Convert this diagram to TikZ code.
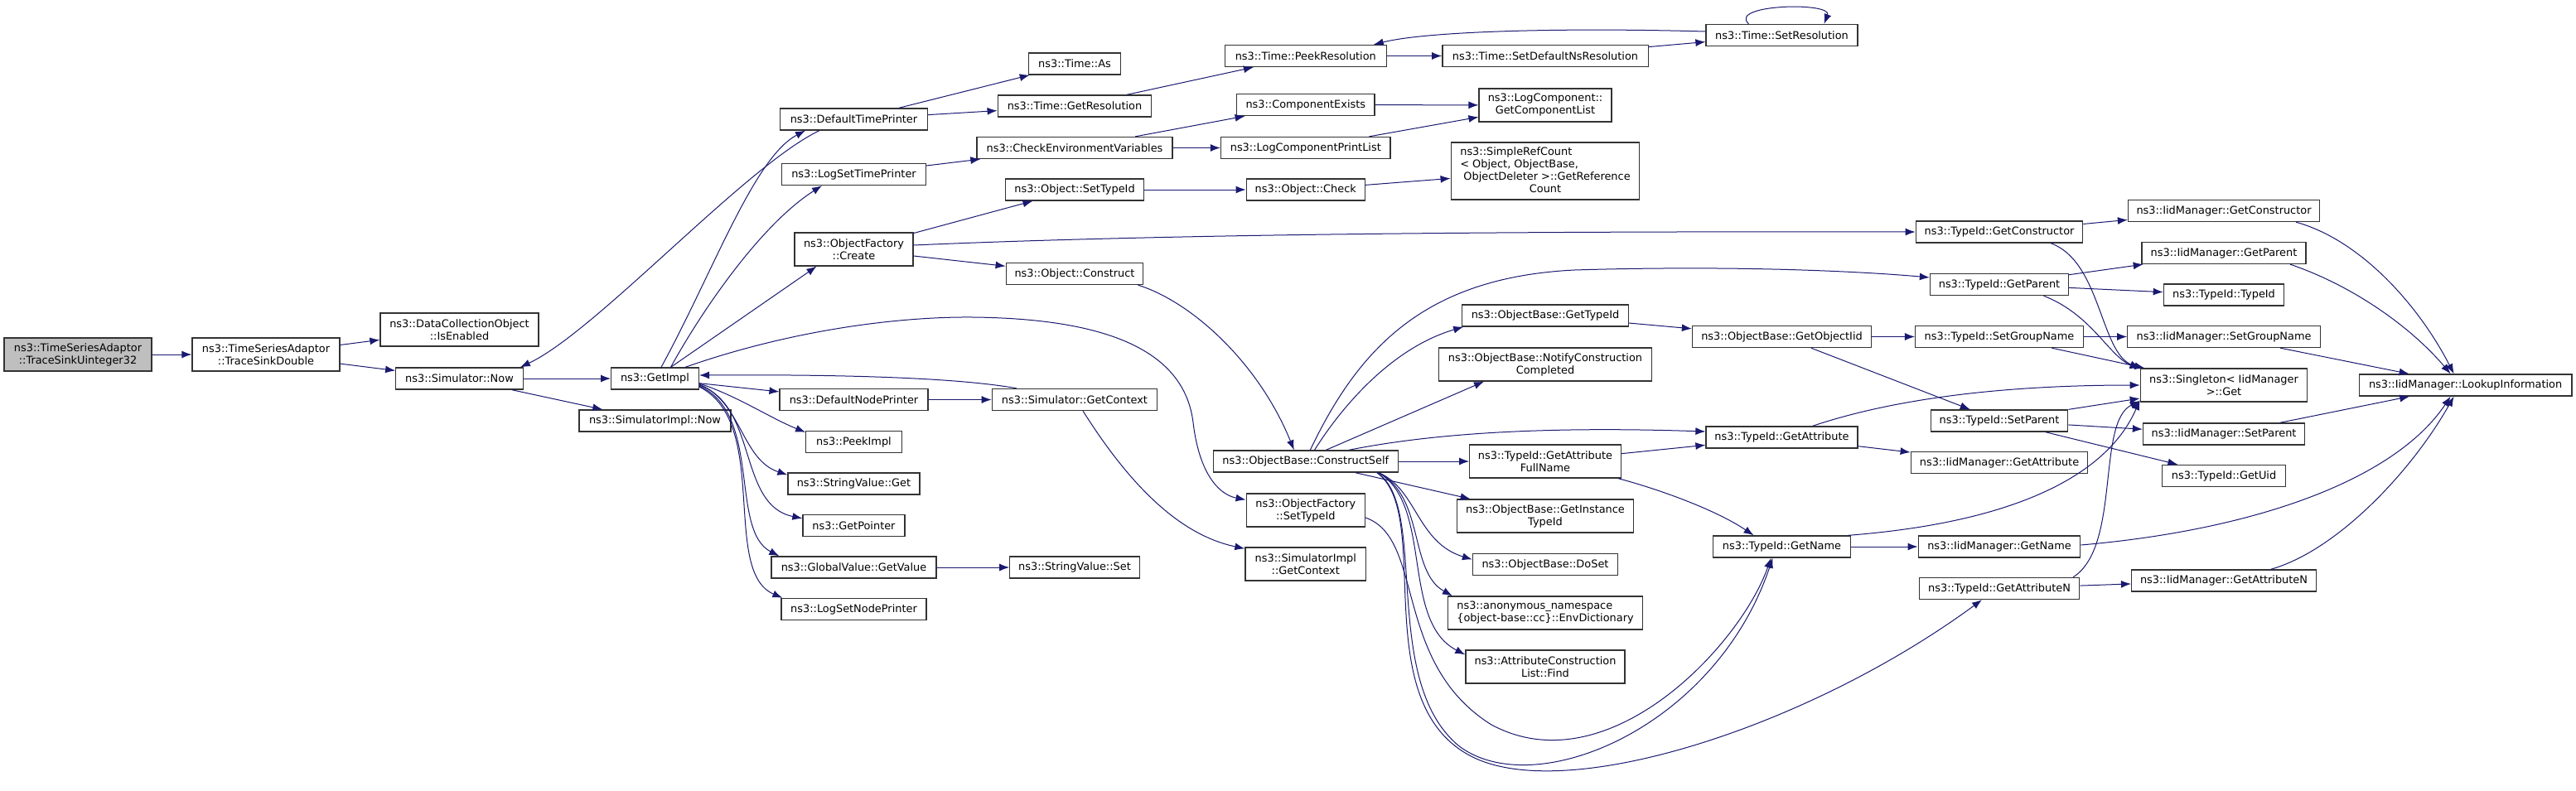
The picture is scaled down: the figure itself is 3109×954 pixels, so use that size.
\documentclass[tikz,border=0pt]{standalone}
\usepackage{fontspec}
\setmainfont{DejaVu Sans}
\usepackage{tikz}
\usetikzlibrary{arrows.meta}
\tikzset{font={\fontsize{12.9pt}{15pt}\selectfont}}
\definecolor{edgeblue}{RGB}{25,25,112}
\definecolor{rootgray}{RGB}{191,191,191}
\definecolor{boxline}{RGB}{51,51,51}
\begin{document}
\begin{tikzpicture}[x=1pt,y=-1pt,
fn/.style={draw=boxline,line width=1.3pt,fill=white,align=center,inner sep=1pt,minimum height=26pt},
call/.style={draw=edgeblue,line width=1pt,-{Latex[length=12pt,width=9pt]}}
]
\useasboundingbox (0,0) rectangle (3109,954);
\node[fn,fill=rootgray,minimum width=178pt,minimum height=40pt] (tsu) at (94,428) {ns3::TimeSeriesAdaptor\\::TraceSinkUinteger32};
\foreach \nm/\cx/\cy/\bw/\bh/\lbl in {
tsd/321/428/178/40/{ns3::TimeSeriesAdaptor\\::TraceSinkDouble},
isen/554.5/398/191/40/{ns3::DataCollectionObject\\::IsEnabled},
snow/554.5/457/153.5/26/{ns3::Simulator::Now},
gimpl/790.5/457/105.7/26/{ns3::GetImpl},
sinow/790.5/508/183/26/{ns3::SimulatorImpl::Now},
dtp/1030.5/144/177.4/26/{ns3::DefaultTimePrinter},
lstp/1030.5/210.5/174/26/{ns3::LogSetTimePrinter},
ofc/1030.5/301/143/40/{ns3::ObjectFactory\\::Create},
dnp/1030.5/482.5/178.8/26/{ns3::DefaultNodePrinter},
peek/1030.5/533.5/115.4/26/{ns3::PeekImpl},
svget/1030.5/584/159/26/{ns3::StringValue::Get},
gptr/1030.5/634.5/123/26/{ns3::GetPointer},
gvget/1030.5/685/199/26/{ns3::GlobalValue::GetValue},
lsnp/1030.5/735.5/175/26/{ns3::LogSetNodePrinter},
tas/1297/77/110.8/26/{ns3::Time::As},
tgres/1297/128/185.6/26/{ns3::Time::GetResolution},
cenv/1297/178.5/236/26/{ns3::CheckEnvironmentVariables},
ostid/1297/229/167/26/{ns3::Object::SetTypeId},
ocons/1297/330.5/165.6/26/{ns3::Object::Construct},
sgctx/1297/482.5/199.4/26/{ns3::Simulator::GetContext},
svset/1297/685/156.4/26/{ns3::StringValue::Set},
tpres/1575.8/67.5/195/26/{ns3::Time::PeekResolution},
cexist/1575.8/126.5/166.6/26/{ns3::ComponentExists},
lcpl/1575.8/178.5/204.6/26/{ns3::LogComponentPrintList},
ochk/1575.8/229/143.2/26/{ns3::Object::Check},
cself/1575.8/557/223.2/26/{ns3::ObjectBase::ConstructSelf},
ofstid/1575.8/616/143.2/40/{ns3::ObjectFactory\\::SetTypeId},
sigctx/1575.8/681/145.7/40/{ns3::SimulatorImpl\\::GetContext},
tsdns/1865/67.5/248.3/26/{ns3::Time::SetDefaultNsResolution},
lcgcl/1865/127/159.8/40/{ns3::LogComponent::\\GetComponentList},
obgtid/1865/381/200.4/26/{ns3::ObjectBase::GetTypeId},
obncc/1865/440/257.6/40/{ns3::ObjectBase::NotifyConstruction\\Completed},
tgafn/1865/557/182.5/40/{ns3::TypeId::GetAttribute\\FullName},
obgitid/1865/623/213.5/40/{ns3::ObjectBase::GetInstance\\TypeId},
obdoset/1865/681.5/175/26/{ns3::ObjectBase::DoSet},
acfind/1865/805/192.2/40/{ns3::AttributeConstruction\\List::Find},
tsres/2150.5/42.5/183/26/{ns3::Time::SetResolution},
obgoid/2150.5/406.5/216/26/{ns3::ObjectBase::GetObjectIid},
tgattr/2150.5/528/183/26/{ns3::TypeId::GetAttribute},
tgname/2150.5/660/165.6/26/{ns3::TypeId::GetName},
tgcons/2413/280/201.5/26/{ns3::TypeId::GetConstructor},
tgpar/2413/343.5/167/26/{ns3::TypeId::GetParent},
tsgn/2413/406.5/202.8/26/{ns3::TypeId::SetGroupName},
tspar/2413/508/165.6/26/{ns3::TypeId::SetParent},
imgattr/2413/558.5/213.5/26/{ns3::IidManager::GetAttribute},
imgname/2413/660/195.6/26/{ns3::IidManager::GetName},
tgattrn/2413/710.5/193.6/26/{ns3::TypeId::GetAttributeN},
imgcons/2684/254.5/231/26/{ns3::IidManager::GetConstructor},
imgpar/2684/305.5/198/26/{ns3::IidManager::GetParent},
ttid/2684/356/145.4/26/{ns3::TypeId::TypeId},
imsgn/2684/406.5/232.4/26/{ns3::IidManager::SetGroupName},
sget/2684/465/201.4/40/{ns3::Singleton< IidManager\\>::Get},
imspar/2684/524/195/26/{ns3::IidManager::SetParent},
tguid/2684/574.5/148.4/26/{ns3::TypeId::GetUid},
imgattrn/2684/701/222.8/26/{ns3::IidManager::GetAttributeN},
imlook/2975.6/465/256.8/26/{ns3::IidManager::LookupInformation}}
  \node[fn,minimum width=\bw pt,minimum height=\bh pt] (\nm) at (\cx,\cy) {\lbl};
\node[fn,align=left,minimum width=234.9pt,minimum height=40pt] (envd) at (1865,740) {ns3::anonymous\_namespace\\\{object-base::cc\}::EnvDictionary};
\node[fn,minimum width=227.6pt,minimum height=69pt] (srefc) at (1865,206.5) {\begin{tabular}{@{}l@{}}ns3::SimpleRefCount\\< Object, ObjectBase,\\\ ObjectDeleter >::GetReference\\\multicolumn{1}{@{}c@{}}{Count}\end{tabular}};

\foreach \src/\dst in {tsu/tsd, tsd/isen, tsd/snow, snow/gimpl, snow/sinow, gimpl/dnp,
  dtp/tas, dtp/tgres, tgres/tpres, lstp/cenv, cenv/cexist, cenv/lcpl, cexist/lcgcl, lcpl/lcgcl,
  ofc/ostid, ofc/ocons, ostid/ochk, ochk/srefc, dnp/sgctx, gvget/svset, tpres/tsdns, tsdns/tsres,
  cself/tgafn, cself/obgitid, obgtid/obgoid, obgoid/tsgn, obgoid/tspar, tgafn/tgattr,
  tgcons/imgcons, tgpar/imgpar, tgpar/ttid, tsgn/imsgn, tsgn/sget, tgattr/imgattr,
  tspar/imspar, tspar/tguid, tgname/imgname, tgattrn/imgattrn, imsgn/imlook, imspar/imlook}
  \draw[call] (\src) -- (\dst);

\draw[call] ([xshift=7.5pt]gimpl.north) .. controls (860,330) and (910,190) .. ([xshift=-58.5pt]dtp.south);
\draw[call] ([xshift=-41.5pt]dtp.south) .. controls (900,200) and (720,400) .. ([xshift=-4pt]snow.north east);
\draw[call] ([xshift=19pt]gimpl.north) .. controls (850,370) and (920,270) .. ([xshift=-38.5pt]lstp.south);
\draw[call] ([xshift=19pt]gimpl.north) -- ([xshift=-45pt]ofc.south);
\draw[call] ([xshift=36.5pt]gimpl.north) .. controls (950,400) and (1080,382) .. (1175,383) .. controls (1350,385) and (1430,430) .. (1440,510) .. controls (1447,570) and (1470,597) .. ([yshift=-8pt]ofstid.north west);
\draw[call] ([xshift=-70pt]sgctx.north) .. controls (1150,455) and (1000,452) .. ([yshift=4pt]gimpl.east);
\draw[call] ([yshift=-6pt]gimpl.east) .. controls (890,478) and (930,505) .. ([yshift=-2pt]peek.north west);
\draw[call] ([yshift=-7pt]gimpl.east) .. controls (895,485) and (895,555) .. ([yshift=-3pt]svget.north west);
\draw[call] ([yshift=-8pt]gimpl.east) .. controls (915,490) and (890,610) .. ([yshift=-5pt]gptr.north west);
\draw[call] ([yshift=-9pt]gimpl.east) .. controls (920,500) and (880,640) .. ([xshift=10pt]gvget.north west);
\draw[call] ([yshift=-10pt]gimpl.east) .. controls (930,510) and (870,690) .. ([xshift=2pt]lsnp.north west);
\draw[call] ([yshift=5pt]ofc.east) .. controls (1400,283) and (1800,279) .. (tgcons.west);
\draw[call] ([xshift=10pt]sgctx.south) .. controls (1360,580) and (1420,645) .. ([yshift=-2pt]sigctx.north west);
\draw[call] ([xshift=-7pt]ocons.south east) .. controls (1440,365) and (1520,440) .. ([xshift=-14pt]cself.north);
\draw[call] ([yshift=4.5pt]tsres.west) .. controls (1880,33) and (1720,38) .. ([xshift=82pt]tpres.north);
\draw[call] ([xshift=-40pt]tsres.north) .. controls (2085,5) and (2212,2) .. ([xshift=51pt]tsres.north);

\draw[call] ([xshift=10.7pt]cself.north) .. controls (1620,490) and (1680,420) .. ([xshift=2pt]obgtid.south west);
\draw[call] ([xshift=24.5pt]cself.north) -- ([xshift=-74pt]obncc.south);
\draw[call] ([xshift=5.5pt]cself.north) .. controls (1640,420) and (1720,335) .. (1900,326) .. controls (2100,320) and (2250,328) .. ([yshift=8.5pt]tgpar.west);
\draw[call] ([xshift=52pt]cself.north) .. controls (1720,525) and (1850,514) .. ([yshift=7pt]tgattr.west);
\draw[call] ([xshift=88pt]cself.south) .. controls (1710,590) and (1710,655) .. ([yshift=6pt]obdoset.west);
\draw[call] ([xshift=88pt]cself.south) .. controls (1720,600) and (1700,690) .. ([xshift=6pt]envd.north west);
\draw[call] ([xshift=88pt]cself.south) .. controls (1730,610) and (1690,750) .. ([yshift=-6pt]acfind.north west);
\draw[call] ([xshift=86pt]cself.south) .. controls (1725,610) and (1665,820) .. (1760,900) .. controls (1850,970) and (2070,880) .. ([xshift=-11pt]tgname.south);
\draw[call] ([xshift=86pt]cself.south) .. controls (1730,620) and (1650,840) .. (1770,910) .. controls (1880,975) and (2180,880) .. ([xshift=-21pt]tgattrn.south);
\draw[call] ([yshift=-9pt]ofstid.east) .. controls (1720,650) and (1680,800) .. (1800,875) .. controls (1940,950) and (2100,780) .. ([xshift=-13pt]tgname.south);
\draw[call] ([xshift=88pt]tgafn.south) .. controls (2000,590) and (2070,615) .. ([xshift=-34pt]tgname.north);

\draw[call] ([xshift=62pt]tgcons.south) .. controls (2535,315) and (2535,425) .. (sget.north west);
\draw[call] ([xshift=53.5pt]tgpar.south) .. controls (2525,380) and (2545,430) .. ([yshift=-1pt]sget.north west);
\draw[call] ([xshift=37pt]tgattr.north) .. controls (2260,490) and (2380,465) .. (sget.west);
\draw[call] (tspar.north east) -- ([yshift=-16pt]sget.west);
\draw[call] ([xshift=80pt]tgname.north) .. controls (2440,630) and (2545,570) .. ([yshift=-18pt]sget.west);
\draw[call] ([xshift=89pt]tgattrn.north) .. controls (2560,660) and (2530,510) .. ([yshift=-19pt]sget.west);
\draw[call] ([yshift=2pt]imgname.east) .. controls (2720,640) and (2890,580) .. ([xshift=-18pt]imlook.south);
\draw[call] ([xshift=56.5pt]imgattrn.north) .. controls (2820,665) and (2910,570) .. ([xshift=-14pt]imlook.south);
\draw[call] ([xshift=87pt]imgcons.south) .. controls (2850,290) and (2920,370) .. ([xshift=-14pt]imlook.north);
\draw[call] ([xshift=80pt]imgpar.south) .. controls (2840,345) and (2910,395) .. ([xshift=-18pt]imlook.north);
\end{tikzpicture}
\end{document}
